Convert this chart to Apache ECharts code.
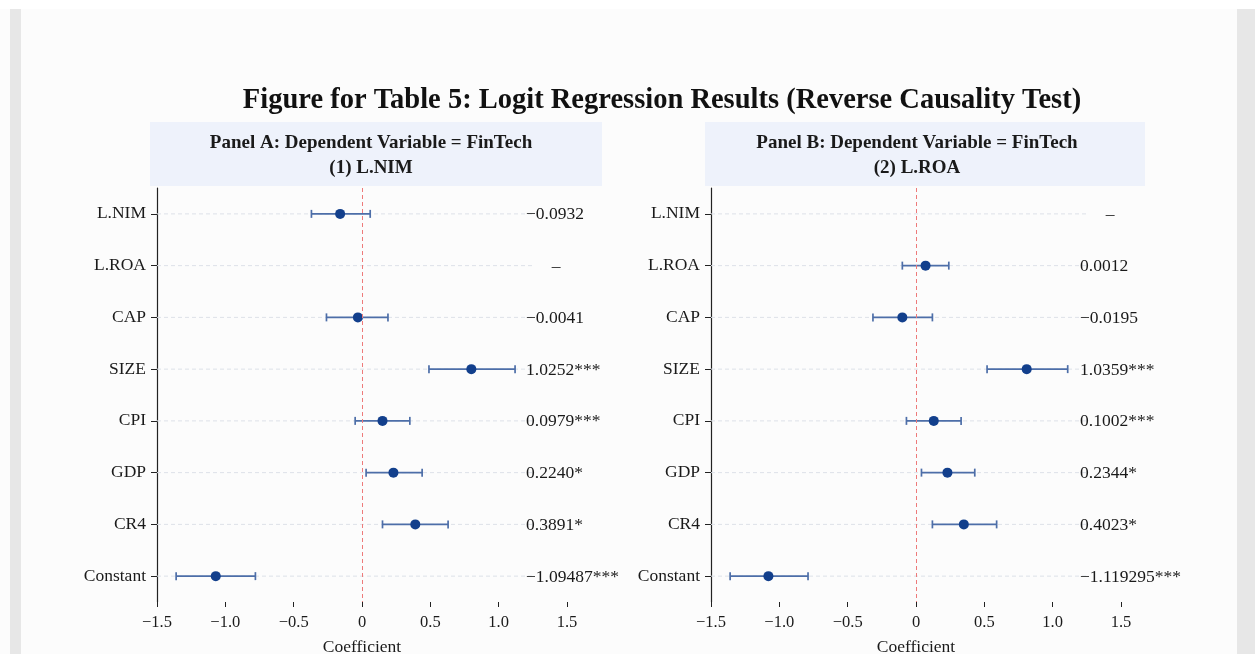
<!DOCTYPE html>
<html>
<head>
<meta charset="utf-8">
<title>Figure for Table 5</title>
<script src="https://cdn.jsdelivr.net/npm/echarts@6/dist/echarts.min.js"></script>
<style>
html, body { margin: 0; padding: 0; background: #fff; }
#chart { width: 1255px; height: 654px; }
</style>
</head>
<body>
<div id="chart"></div>
<script>
// variables, top to bottom
const categories = ['L.NIM', 'L.ROA', 'CAP', 'SIZE', 'CPI', 'GDP', 'CR4', 'Constant']

// Panel A (1) L.NIM  - point, lower and upper end of the interval
const coefA = [-0.16, null, -0.03, 0.80, 0.15, 0.23, 0.39, -1.07]
const lowA = [-0.37, null, -0.26, 0.49, -0.05, 0.03, 0.15, -1.36]
const highA = [0.06, null, 0.19, 1.12, 0.35, 0.44, 0.63, -0.78]
const textA = ['−0.0932', '–', '−0.0041', '1.0252***', '0.0979***', '0.2240*', '0.3891*', '−1.09487***']

// Panel B (2) L.ROA
const coefB = [null, 0.07, -0.10, 0.81, 0.13, 0.23, 0.35, -1.08]
const lowB = [null, -0.10, -0.315, 0.52, -0.07, 0.04, 0.12, -1.36]
const highB = [null, 0.24, 0.12, 1.11, 0.33, 0.43, 0.59, -0.79]
const textB = ['–', '0.0012', '−0.0195', '1.0359***', '0.1002***', '0.2344*', '0.4023*', '−1.119295***']

const xTicks = { min: -1.5, max: 1.5, interval: 0.5 }

const serif = "'Liberation Serif', 'Times New Roman', serif"
const ink = '#1a1a1a'

function xAxisFor(idx) {
    return {
        gridIndex: idx,
        type: 'value',
        min: xTicks.min,
        max: xTicks.max,
        interval: xTicks.interval,
        name: 'Coefficient',
        nameLocation: 'middle',
        nameGap: 36,
        nameTextStyle: { fontFamily: serif, fontSize: 17.5, color: ink },
        axisLine: { onZero: false, lineStyle: { color: '#222', width: 1.2 } },
        axisTick: { show: true, length: 5, lineStyle: { color: '#222' } },
        axisLabel: {
            fontFamily: serif,
            fontSize: 16.5,
            color: ink,
            margin: 12,
            formatter: v => v === 0 ? '0' : (v < 0 ? '−' : '') + Math.abs(v).toFixed(1)
        },
        splitLine: { show: false }
    }
}

function yAxisFor(idx) {
    return {
        gridIndex: idx,
        type: 'category',
        data: categories,
        inverse: true,
        axisLine: { onZero: false, lineStyle: { color: '#222', width: 1.2 } },
        axisTick: { show: true, length: 6, alignWithLabel: true, lineStyle: { color: '#222' } },
        axisLabel: { fontFamily: serif, fontSize: 17.5, color: ink, margin: 11 },
        splitLine: { show: false }
    }
}

// dashed row guide + error bar with caps + value text
function makeRows(idx, low, high, texts) {
    const data = categories.map((c, i) => [i, low[i] == null ? NaN : low[i], high[i] == null ? NaN : high[i]])
    return {
        type: 'custom',
        xAxisIndex: idx,
        yAxisIndex: idx,
        clip: false,
        silent: true,
        z: 2,
        encode: { x: [1, 2], y: 0 },
        data: data,
        renderItem: function (params, api) {
            const cat = api.value(0)
            const lo = api.value(1)
            const hi = api.value(2)
            const g0 = api.coord([-1.5, cat])
            const g1 = api.coord([1.25, cat])
            const children = [{
                type: 'line',
                shape: { x1: g0[0], y1: g0[1], x2: g1[0], y2: g1[1] },
                style: { stroke: '#dde1e8', lineWidth: 1, lineDash: [4, 3] }
            }]
            if (!isNaN(lo) && !isNaN(hi)) {
                const p0 = api.coord([lo, cat])
                const p1 = api.coord([hi, cat])
                const st = { stroke: '#4d6ea8', lineWidth: 1.7 }
                children.push(
                    { type: 'line', shape: { x1: p0[0], y1: p0[1], x2: p1[0], y2: p1[1] }, style: st },
                    { type: 'line', shape: { x1: p0[0], y1: p0[1] - 4, x2: p0[0], y2: p0[1] + 4 }, style: st },
                    { type: 'line', shape: { x1: p1[0], y1: p1[1] - 4, x2: p1[0], y2: p1[1] + 4 }, style: st }
                )
            }
            const txt = texts[params.dataIndex]
            const dash = txt === '–'
            const t = api.coord([dash ? 1.42 : 1.2, cat])
            children.push({
                type: 'text',
                x: t[0],
                y: t[1] + 1,
                style: {
                    text: txt,
                    fill: ink,
                    font: '17.5px ' + serif,
                    align: dash ? 'center' : 'left',
                    verticalAlign: 'middle'
                }
            })
            return { type: 'group', children: children }
        }
    }
}

function makeDots(idx, coef) {
    const data = []
    coef.forEach((v, i) => { if (v != null) data.push([v, categories[i]]) })
    return {
        type: 'scatter',
        xAxisIndex: idx,
        yAxisIndex: idx,
        symbolSize: 10,
        z: 4,
        itemStyle: { color: '#123f8c', opacity: 1 },
        data: data,
        markLine: {
            silent: true,
            symbol: 'none',
            label: { show: false },
            lineStyle: { color: '#ee7a7a', type: [4, 3], width: 1, opacity: 1 },
            data: [{ xAxis: 0 }]
        }
    }
}

function header(cx, left, width, line1, line2) {
    return [
        { type: 'rect', shape: { x: left, y: 122, width: width, height: 64 }, style: { fill: '#eef2fb' } },
        { type: 'text', x: cx, y: 143, style: { text: line1, font: 'bold 19px ' + serif, fill: ink, align: 'center', verticalAlign: 'middle' } },
        { type: 'text', x: cx, y: 168, style: { text: line2, font: 'bold 19px ' + serif, fill: ink, align: 'center', verticalAlign: 'middle' } }
    ]
}

const myChart = echarts.init(document.getElementById('chart'))
const option = {
    backgroundColor: '#fcfcfc',
    animation: false,
    graphic: [
        { type: 'rect', shape: { x: 0, y: 0, width: 1255, height: 9 }, style: { fill: '#ffffff' }, z: -10 },
        { type: 'rect', shape: { x: 10, y: 9, width: 11, height: 645 }, style: { fill: '#e7e7e7' }, z: -10 },
        { type: 'rect', shape: { x: 1237, y: 9, width: 18, height: 645 }, style: { fill: '#e7e7e7' }, z: -10 },
        {
            type: 'text', x: 662, y: 101,
            style: {
                text: 'Figure for Table 5: Logit Regression Results (Reverse Causality Test)',
                font: 'bold 28.5px ' + serif, fill: '#111', align: 'center', verticalAlign: 'middle'
            }
        },
        ...header(371, 150, 452, 'Panel A: Dependent Variable = FinTech', '(1) L.NIM'),
        ...header(917, 705, 440, 'Panel B: Dependent Variable = FinTech', '(2) L.ROA')
    ],
    grid: [
        { left: 157, top: 188, width: 410, height: 414, outerBoundsMode: 'none', containLabel: false },
        { left: 711, top: 188, width: 410, height: 414, outerBoundsMode: 'none', containLabel: false }
    ],
    xAxis: [xAxisFor(0), xAxisFor(1)],
    yAxis: [yAxisFor(0), yAxisFor(1)],
    series: [
        makeRows(0, lowA, highA, textA),
        makeDots(0, coefA),
        makeRows(1, lowB, highB, textB),
        makeDots(1, coefB)
    ]
}
myChart.setOption(option)
window.addEventListener('resize', () => { myChart.resize() })
</script>
</body>
</html>
